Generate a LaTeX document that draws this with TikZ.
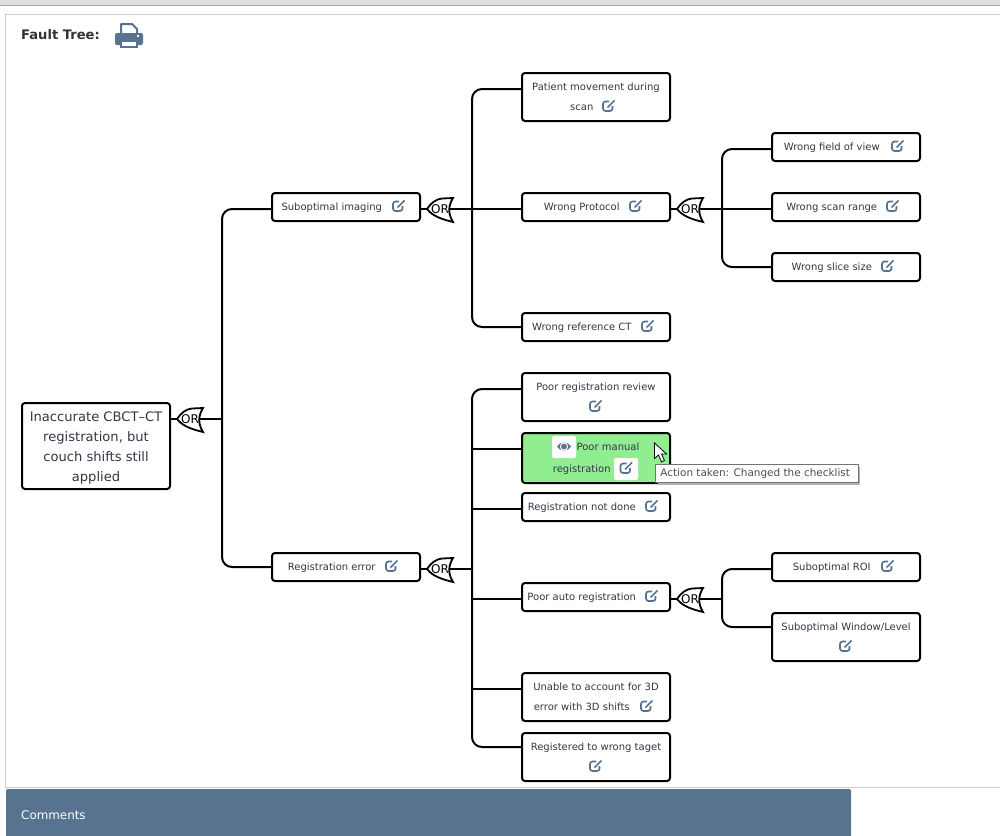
\documentclass[tikz,border=0pt]{standalone}
\usepackage{xcolor}
\usepackage{fontspec}
\setmainfont{DejaVu Sans}
\usetikzlibrary{arrows.meta, positioning, calc}
\definecolor{slateblue}{RGB}{87, 115, 143}
\definecolor{boxtext}{RGB}{50, 55, 70}
\definecolor{manualgreen}{RGB}{144, 238, 144}
\newcommand{\iconsp}{\rule{28.5pt}{0pt}}

\begin{document}
\begin{tikzpicture}[
    x=1pt, y=-1pt,
    box/.style={rectangle, draw=black, fill=white, line width=2pt,
                minimum width=148pt, minimum height=28pt, align=center, inner sep=0pt,
                text height=7.5pt, text depth=1.5pt,
                rounded corners=3pt, text=boxtext, font=\fontsize{10}{20}\selectfont},
    tallbox/.style={box, minimum height=48pt, text height={}, text depth={}},
    rootbox/.style={tallbox, minimum height=86pt, font=\fontsize{13.1}{20}\selectfont},
    gate/.style={minimum width=26pt, minimum height=24pt, inner sep=0pt, font=\fontsize{12}{12}\selectfont},
    link/.style={line width=2pt, black, rounded corners=10pt},
    editicon/.pic={
        \draw[slateblue, line width=1.7pt, rounded corners=2.5pt] (1,-4.5) -- (-5,-4.5) -- (-5,5) -- (4.5,5) -- (4.5,0);
        \draw[slateblue, line width=1.5pt] (-0.5,1.5) -- (6.5,-5.5);
    },
    orshape/.pic={
        \draw[line width=1.8pt, fill=white] (-13,0) .. controls (-9,-6) and (-4,-10) .. (2,-10.5)
            -- (13,-11) .. controls (8,-3) and (8,5) .. (13,13)
            .. controls (5,11) and (-7,8) .. (-13,0) -- cycle;
    }
]
    \useasboundingbox (0,0) rectangle (1000,835);

    % page frame
    \fill[black!12] (0,0) rectangle (1000,5);
    \draw[black!35] (0,5.5) -- (1000,5.5);
    \draw[black!20] (1000,14.5) -- (5.5,14.5) -- (5.5,787.5) -- (1000,787.5);
    \node[anchor=west, inner sep=0pt, text=black!80, font=\fontsize{13.1}{14}\selectfont\bfseries] (title) at (21,35) {Fault Tree:};

    % printer
    \draw[slateblue, line width=2pt, fill=white, line join=round] (121,36) -- (121,24) -- (132,24) -- (137,29) -- (137,36);
    \fill[slateblue, rounded corners=2pt] (115,33) rectangle (143,45);
    \fill[white] (137,35) rectangle (139,37);
    \draw[slateblue, line width=2pt, fill=white] (121,40.5) rectangle (137,47);

    % boxes
    \node[rootbox] (root) at (96,446) {\rule{0pt}{14pt}Inaccurate CBCT--CT\\registration, but\\couch shifts still\\applied};
    \node[box] (imaging) at (346,207) {Suboptimal imaging\iconsp};
    \node[box] (regerror) at (346,567) {Registration error\iconsp};

    \node[tallbox] (patient) at (596,97) {Patient movement during\\scan\iconsp};
    \node[box] (protocol) at (596,207) {Wrong Protocol\iconsp};
    \node[box] (refct) at (596,327) {Wrong reference CT\iconsp};
    \node[tallbox] (review) at (596,397) {Poor registration review\\\phantom{x}};
    \node[tallbox, minimum height=50pt, fill=manualgreen] (manual) at (596,458) {\rule{0pt}{10pt}\hspace{24pt}Poor manual\\[2pt]registration\iconsp};
    \node[box] (notdone) at (596,507) {Registration not done\iconsp};
    \node[box] (autoreg) at (596,597) {Poor auto registration\iconsp};
    \node[tallbox] (unable) at (596,697) {Unable to account for 3D\\error with 3D shifts\iconsp};
    \node[tallbox] (wrongtarget) at (596,757) {Registered to wrong taget\\\phantom{x}};

    \node[box] (fov) at (846,147) {Wrong field of view\iconsp};
    \node[box] (scanrange) at (846,207) {Wrong scan range\iconsp};
    \node[box] (slice) at (846,267) {Wrong slice size\iconsp};
    \node[box] (roi) at (846,567) {Suboptimal ROI\iconsp};
    \node[tallbox] (window) at (846,637) {Suboptimal Window/Level\\\phantom{x}};

    % gates
    \pic at (190,419) {orshape};
    \node[gate] (gateA) at (190,419) {OR};
    \pic at (440,209) {orshape};
    \node[gate] (gateB) at (440,209) {OR};
    \pic at (440,569) {orshape};
    \node[gate] (gateC) at (440,569) {OR};
    \pic at (690,209) {orshape};
    \node[gate] (gateD) at (690,209) {OR};
    \pic at (690,599) {orshape};
    \node[gate] (gateE) at (690,599) {OR};

    \coordinate (junctionA) at (222,419);
    \coordinate (junctionB) at (472,209);
    \coordinate (junctionC) at (472,569);
    \coordinate (junctionD) at (722,209);
    \coordinate (junctionE) at (722,599);

    % connectors
    \draw[link] (root.east |- gateA) -- (gateA.west);
    \draw[link] ([xshift=-4pt]gateA.east) -- (junctionA);
    \draw[link] (imaging.west |- 0,209) -| (junctionA);
    \draw[link] (regerror.west) -| (junctionA);

    \draw[link] (imaging.east |- gateB) -- (gateB.west);
    \draw[link] ([xshift=-4pt]gateB.east) -- (protocol.west |- gateB);
    \draw[link] (patient.west |- 0,89) -| (junctionB);
    \draw[link] (refct.west) -| (junctionB);

    \draw[link] (regerror.east |- gateC) -- (gateC.west);
    \draw[link] ([xshift=-4pt]gateC.east) -- (junctionC);
    \draw[link] (review.west |- 0,389) -| (junctionC);
    \draw[link] (manual.west |- 0,449) -- (junctionC |- 0,449);
    \draw[link] (notdone.west |- 0,509) -- (junctionC |- 0,509);
    \draw[link] (autoreg.west |- 0,599) -- (junctionC |- 0,599);
    \draw[link] (unable.west |- 0,689) -- (junctionC |- 0,689);
    \draw[link] (wrongtarget.west |- 0,747) -| (junctionC);

    \draw[link] (protocol.east |- gateD) -- (gateD.west);
    \draw[link] ([xshift=-4pt]gateD.east) -- (scanrange.west |- gateD);
    \draw[link] (fov.west |- 0,149) -| (junctionD);
    \draw[link] (slice.west) -| (junctionD);

    \draw[link] (autoreg.east |- gateE) -- (gateE.west);
    \draw[link] ([xshift=-4pt]gateE.east) -- (junctionE);
    \draw[link] (roi.west |- 0,569) -| (junctionE);
    \draw[link] (window.west |- 0,627) -| (junctionE);

    % edit icons
    \foreach \px/\py in {398/206, 391/566, 608/106, 635/206, 647/326, 595/406, 651/506,
                         651/596, 646/706, 595/766, 897/146, 892/206, 887/266, 887/566, 845/646}
        \pic at (\px,\py) {editicon};

    % highlighted box
    \fill[white, rounded corners=2pt] (552,436) rectangle (576,458);
    \fill[white, rounded corners=2pt] (614,458) rectangle (638,480);
    \pic at (625.5,468) {editicon};
    \fill[slateblue] (557,446.5) .. controls (560,441) and (568,441) .. (571,446.5)
        .. controls (568,452) and (560,452) .. (557,446.5) -- cycle;
    \draw[white, line width=1pt] (564,446.5) circle (3.6);
    \fill[slateblue] (564,446.5) circle (2.2);

    % tooltip and pointer
    \fill[black!30] (658,467) rectangle (860,485);
    \node[draw=black!55, fill=white, anchor=north west, inner sep=0pt, minimum width=203pt, minimum height=18.5pt,
          text height=8pt, text depth=0pt,
          text=black!70, font=\fontsize{10.45}{12}\selectfont] (tooltip) at (654.5,463.5) {Action taken: Changed the checklist\rule{2pt}{0pt}};
    \draw[black, fill=white, line width=0.8pt, line join=miter] (654.5,443) -- (654.5,458.5) -- (658.5,455) -- (661.5,462)
        -- (664.5,460.5) -- (661.5,454) -- (666.5,454) -- cycle;

    % comments panel
    \fill[slateblue, rounded corners=2pt] (6,850) -- (6,789) -- (851,789) -- (851,850) -- cycle;
    \node[anchor=west, inner sep=0pt, text=white, font=\fontsize{11.9}{14}\selectfont] (comments) at (21,815) {Comments};
\end{tikzpicture}
\end{document}
